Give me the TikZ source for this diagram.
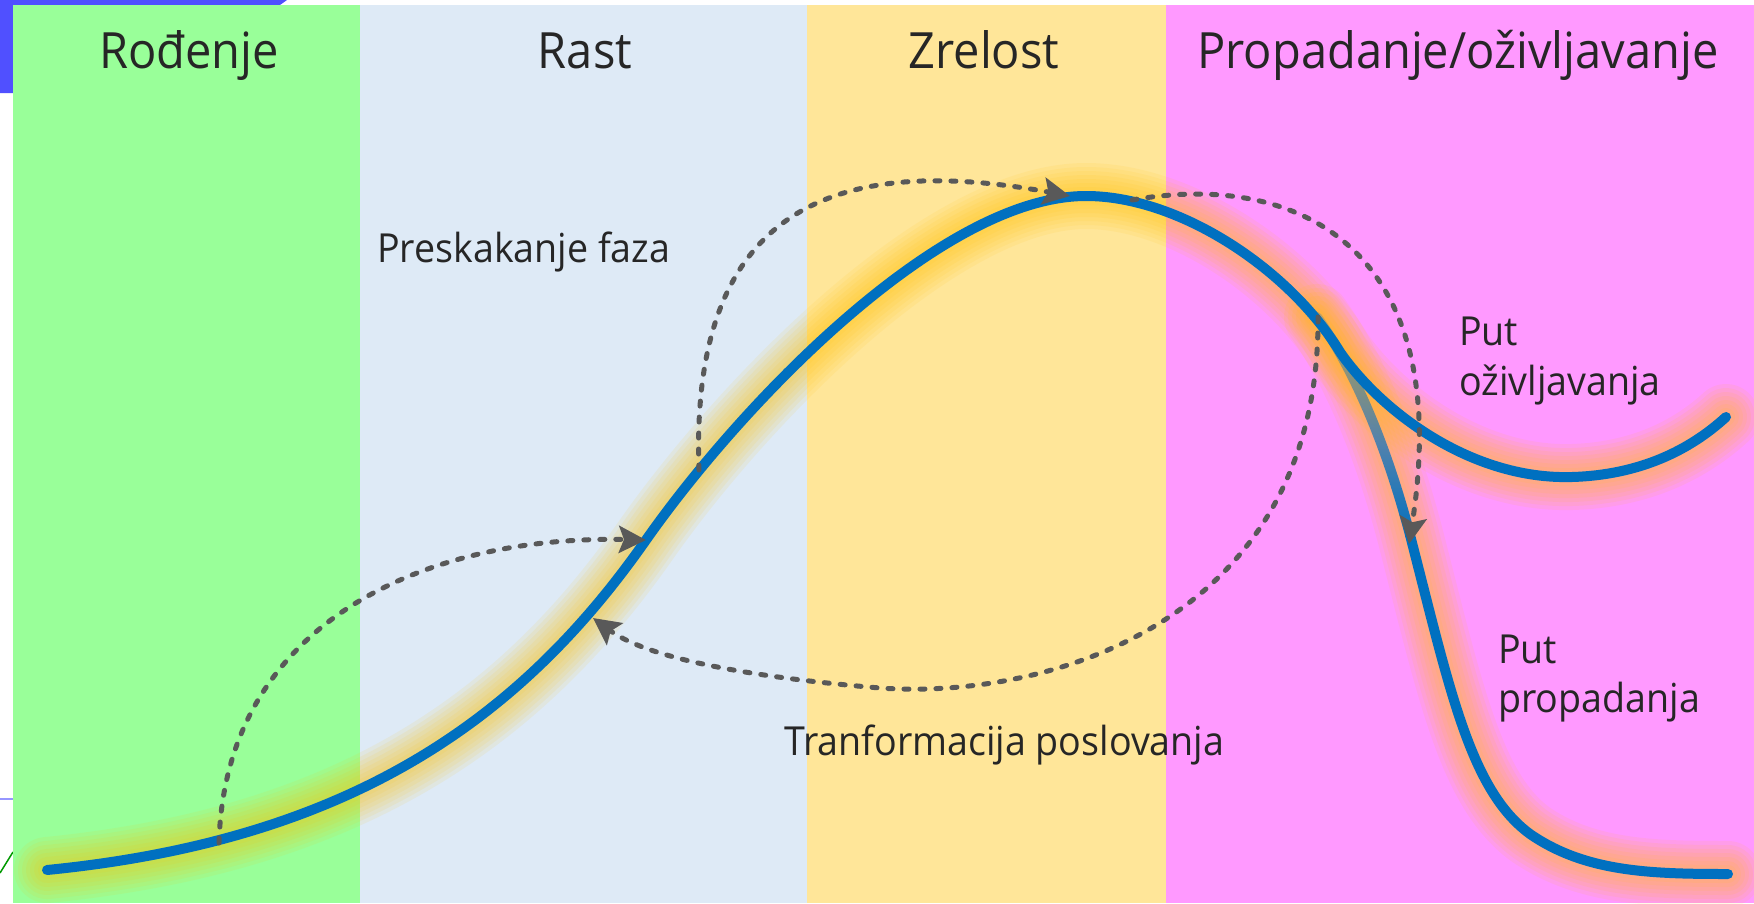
\documentclass[tikz,border=0pt]{standalone}
\usepackage{fontspec}
\setmainfont{Open Sans}[FakeStretch=0.94]
\usetikzlibrary{arrows.meta,fadings}

\definecolor{bandgreen}{HTML}{99FF99}
\definecolor{bandblue}{HTML}{DEEAF6}
\definecolor{bandyellow}{HTML}{FFE699}
\definecolor{bandpink}{HTML}{FF99FF}
\definecolor{curveblue}{HTML}{0070C0}
\definecolor{glowgold}{HTML}{FFC000}
\definecolor{dashgray}{HTML}{595959}
\definecolor{textgray}{HTML}{262626}
\definecolor{frameblue}{HTML}{5050FF}

% the decline branch fades in where it leaves the main curve
\tikzfading[name=branchfade, top color=transparent!75, middle color=transparent!0, bottom color=transparent!0]

% life-cycle curve: birth, growth, peak, then the revival branch
\newcommand{\lifecycleroute}{(curveStart) .. controls (350,840) and (520,720) .. (growthHit)
  .. controls (740,406) and (940,196) .. (peak)
  .. controls (1180,196) and (1290,270) .. (split)
  .. controls (1380,410) and (1470,480) .. (revivalLow)
  .. controls (1640,475) and (1690,450) .. (revivalEnd)}
% decline branch, in two parts
\newcommand{\declinestart}{(declineStart) .. controls (1352,366) and (1385,440) .. (declineMid)}
\newcommand{\declinerest}{(declineMid) .. controls (1450,690) and (1470,790) .. (1530,834)
  .. controls (1585,872) and (1650,874) .. (declineEnd)}

\begin{document}
\begin{tikzpicture}[x=1pt,y=-1pt,
  header/.style={text=textgray, inner sep=0pt, font=\fontsize{50}{60}\selectfont},
  caption/.style={text=textgray, inner sep=0pt, font=\fontsize{40}{50}\selectfont},
  bluecurve/.style={draw=curveblue, line width=10pt, line cap=round, line join=round},
  glowlayer/.style={draw=glowgold, line width=#1, opacity=0.085, line cap=round, line join=round},
  dashedarrow/.style={draw=dashgray, line width=5pt, line cap=round, dash pattern=on 5pt off 11pt,
    -{Stealth[length=27pt,width=27pt,inset=5pt]}}]

\useasboundingbox (0,0) rectangle (1754,903);
\fill[white] (0,0) rectangle (1754,903);

% window edge and stray lines on the left margin
\fill[frameblue] (0,0) -- (287,0) -- (280,5) -- (13,5) -- (13,93) -- (0,93) -- cycle;
\draw[color=frameblue!60!white, line width=2pt] (0,799) -- (13,799);
\draw[color=green!60!black, line width=1.5pt] (0,873) -- (13,852);

% phase bands
\fill[bandgreen] (13,5) rectangle (360,903);
\fill[bandblue] (360,5) rectangle (807,903);
\fill[bandyellow] (807,5) rectangle (1166,903);
\fill[bandpink] (1166,5) rectangle (1754,903);

% phase headings
\node[header, anchor=base] (hBirth) at (189,68) {Rođenje};
\node[header, anchor=base] (hGrowth) at (585,68) {Rast};
\node[header, anchor=base] (hMature) at (984,68) {Zrelost};
\node[header, anchor=base] (hDecline) at (1458,68) {Propadanje/oživljavanje};

% key points of the curves
\coordinate (curveStart) at (47,870);
\coordinate (birthDash) at (219,843);
\coordinate (growthHit) at (646,540);
\coordinate (skipStart) at (699,470);
\coordinate (transHit) at (593,618);
\coordinate (peak) at (1086,196);
\coordinate (peakHit) at (1070,196);
\coordinate (revStart) at (1132,200);
\coordinate (split) at (1340,352);
\coordinate (revivalLow) at (1572,477);
\coordinate (revivalEnd) at (1726,417);
\coordinate (declineStart) at (1317,317);
\coordinate (declineMid) at (1410,535);
\coordinate (declineHit) at (1409,544);
\coordinate (declineEnd) at (1728,874);
\coordinate (transStart) at (1318,317);
\coordinate (transLow) at (880,688);

% soft glow under the curves
\foreach \w in {66,58,50,42,34,26,18} {
  \path[glowlayer=\w pt] \lifecycleroute;
  \path[glowlayer=\w pt] \declinestart \declinerest;
}

% decline branch
\path[bluecurve, path fading=branchfade] \declinestart;
\path[bluecurve] \declinerest;
% main curve with the revival branch
\path[bluecurve] \lifecycleroute;

% dashed transitions
\draw[dashedarrow] (birthDash) .. controls (225,620) and (430,535) .. (growthHit);
\draw[dashedarrow] (skipStart) .. controls (690,220) and (820,150) .. (peakHit);
\draw[dashedarrow] (revStart) .. controls (1300,170) and (1455,250) .. (declineHit);
\draw[dashedarrow] (transStart) .. controls (1320,620) and (1050,700) .. (transLow)
  .. controls (760,678) and (650,660) .. (transHit);

% captions
\node[caption, anchor=base west] (skipLbl) at (377,262) {Preskakanje faza};
\node[caption, anchor=base west] (transLbl) at (784,755) {Tranformacija poslovanja};
\node[caption, anchor=base west] (revLblA) at (1459,345) {Put};
\node[caption, anchor=base west] (revLblB) at (1459,395) {oživljavanja};
\node[caption, anchor=base west] (decLblA) at (1498,663) {Put};
\node[caption, anchor=base west] (decLblB) at (1498,712) {propadanja};
\end{tikzpicture}
\end{document}
